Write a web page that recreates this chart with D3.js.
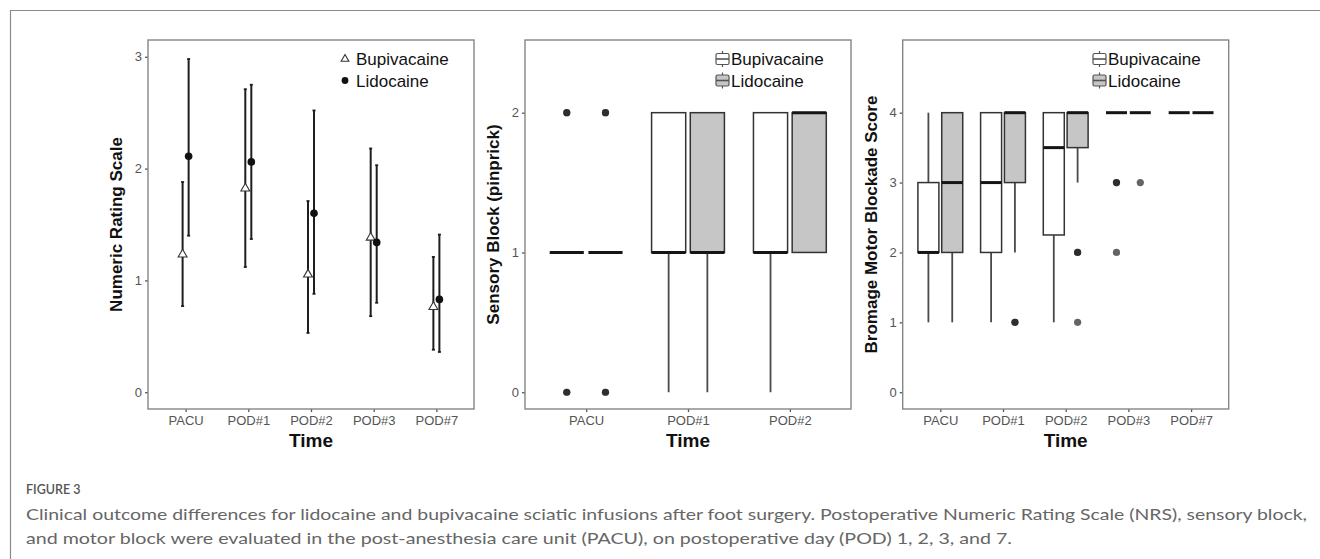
<!DOCTYPE html>
<html>
<head>
<meta charset="utf-8">
<script src="https://cdn.jsdelivr.net/npm/d3@7"></script>
<style>
  body { margin: 0; background: #fff; }
  svg { display: block; }
</style>
</head>
<body>
<div id="chart"></div>
<script>
// ---- data ----
const timesAll = ["PACU", "POD#1", "POD#2", "POD#3", "POD#7"];
const timesSensory = ["PACU", "POD#1", "POD#2"];
const groups = ["Bupivacaine", "Lidocaine"];

// numeric rating scale: mean and error bar ends
const nrsBupiMean = [1.24, 1.83, 1.06, 1.39, 0.77];
const nrsBupiLow  = [0.77, 1.12, 0.53, 0.68, 0.38];
const nrsBupiHigh = [1.88, 2.71, 1.71, 2.18, 1.21];
const nrsLidoMean = [2.11, 2.06, 1.60, 1.34, 0.83];
const nrsLidoLow  = [1.40, 1.37, 0.88, 0.80, 0.36];
const nrsLidoHigh = [2.98, 2.75, 2.52, 2.03, 1.41];

// box stats: [lowWhisker, q1, median, q3, highWhisker]
const sensoryBupi = [[1, 1, 1, 1, 1], [0, 1, 1, 2, 2], [0, 1, 1, 2, 2]];
const sensoryLido = [[1, 1, 1, 1, 1], [0, 1, 1, 2, 2], [1, 1, 2, 2, 2]];
const sensoryBupiOut = [[0, 0, 2, 2], [], []];
const sensoryLidoOut = [[0, 0, 2, 2], [], []];

const motorBupi = [[1, 2, 2, 3, 4], [1, 2, 3, 4, 4], [1, 2.25, 3.5, 4, 4], [4, 4, 4, 4, 4], [4, 4, 4, 4, 4]];
const motorLido = [[1, 2, 3, 4, 4], [2, 3, 4, 4, 4], [3, 3.5, 4, 4, 4], [4, 4, 4, 4, 4], [4, 4, 4, 4, 4]];
const motorBupiOut = [[], [], [], [3, 3, 2], []];
const motorLidoOut = [[], [1, 1], [2, 2, 1], [3], []];

const captionHead = "FIGURE 3";
const captionLines = [
  "Clinical outcome differences for lidocaine and bupivacaine sciatic infusions after foot surgery. Postoperative Numeric Rating Scale (NRS), sensory block,",
  "and motor block were evaluated in the post-anesthesia care unit (PACU), on postoperative day (POD) 1, 2, 3, and 7."
];

// ---- layout ----
const WIDTH = 1320, HEIGHT = 559;
const panelTop = 40, panelBottom = 409, panelW = 326;
const panelLefts = [148, 525, 902.7];
const boxFill = ["#ffffff", "#c6c6c6"];
const axisGray = "#555";
const font = "'Liberation Sans', Arial, sans-serif";

const svg = d3.select("#chart").append("svg")
  .attr("width", WIDTH).attr("height", HEIGHT);

// outer figure frame (top + left)
svg.append("path")
  .attr("d", `M10.5,${HEIGHT} V10.5 H${WIDTH}`)
  .attr("fill", "none").attr("stroke", "#8a8a8a").attr("stroke-width", 1.2);

function makePanel(left, categories, yDomain, yTicks, yTitle) {
  const g = svg.append("g").attr("transform", `translate(${left},0)`);
  const x = d3.scalePoint().domain(categories).range([0, panelW]).padding(0.6);
  const y = d3.scaleLinear().domain(yDomain).range([panelBottom, panelTop]);

  const yAxis = g.append("g")
    .call(d3.axisLeft(y).tickValues(yTicks).tickSize(3).tickPadding(3).tickFormat(d3.format("d")));
  const xAxis = g.append("g")
    .attr("transform", `translate(0,${panelBottom})`)
    .call(d3.axisBottom(x).tickSize(3).tickPadding(4));
  [yAxis, xAxis].forEach(a => {
    a.select(".domain").remove();
    a.selectAll("line").attr("stroke", axisGray).attr("stroke-width", 1.3);
    a.selectAll("text").attr("fill", axisGray).style("font-family", font).style("font-size", "13px");
  });

  g.append("rect")
    .attr("x", 0).attr("y", panelTop)
    .attr("width", panelW).attr("height", panelBottom - panelTop)
    .attr("fill", "none").attr("stroke", "#858585").attr("stroke-width", 1.4);

  g.append("text")
    .attr("transform", `translate(-26,${(panelTop + panelBottom) / 2}) rotate(-90)`)
    .attr("text-anchor", "middle")
    .style("font-family", font).style("font-size", "17px").style("font-weight", "bold")
    .attr("fill", "#111")
    .text(yTitle);

  g.append("text")
    .attr("x", panelW / 2).attr("y", 447)
    .attr("text-anchor", "middle")
    .style("font-family", font).style("font-size", "19px").style("font-weight", "bold")
    .attr("fill", "#111")
    .text("Time");

  return { g, x, y };
}

function legendText(g, lx, ly, label) {
  g.append("text")
    .attr("x", lx).attr("y", ly + 6)
    .style("font-family", font).style("font-size", "17px")
    .attr("fill", "#111")
    .text(label);
}

// ---- panel 1: NRS ----
{
  const { g, x, y } = makePanel(panelLefts[0], timesAll, [-0.15, 3.15], [0, 1, 2, 3], "Numeric Rating Scale");
  const dodge = x.step() * 0.048;
  const series = [
    { name: groups[0], mean: nrsBupiMean, low: nrsBupiLow, high: nrsBupiHigh, off: -dodge },
    { name: groups[1], mean: nrsLidoMean, low: nrsLidoLow, high: nrsLidoHigh, off: dodge }
  ];
  series.forEach((s, si) => {
    const pts = timesAll.map((t, i) => ({ t, m: s.mean[i], lo: s.low[i], hi: s.high[i] }));
    const eb = g.append("g");
    pts.forEach(p => {
      const cx = x(p.t) + s.off;
      eb.append("line").attr("x1", cx).attr("x2", cx)
        .attr("y1", y(p.lo)).attr("y2", y(p.hi))
        .attr("stroke", "#1e1e1e").attr("stroke-width", 2);
      [p.lo, p.hi].forEach(v => eb.append("line")
        .attr("x1", cx - 1.5).attr("x2", cx + 1.5).attr("y1", y(v)).attr("y2", y(v))
        .attr("stroke", "#1e1e1e").attr("stroke-width", 1.8));
    });
    if (si === 0) {
      g.selectAll(".tri").data(pts).join("path").attr("class", "tri")
        .attr("d", d3.symbol(d3.symbolTriangle, 34)())
        .attr("transform", d => `translate(${x(d.t) + s.off},${y(d.m) + 0.8})`)
        .attr("fill", "#fff").attr("stroke", "#333").attr("stroke-width", 1.1);
    } else {
      g.selectAll(".dot").data(pts).join("circle").attr("class", "dot")
        .attr("cx", d => x(d.t) + s.off).attr("cy", d => y(d.m)).attr("r", 3.8)
        .attr("fill", "#111");
    }
  });
  // legend
  const lx = 345 - panelLefts[0];
  g.append("path").attr("d", d3.symbol(d3.symbolTriangle, 26)())
    .attr("transform", `translate(${lx},59)`)
    .attr("fill", "#fff").attr("stroke", "#333").attr("stroke-width", 1.1);
  g.append("circle").attr("cx", lx).attr("cy", 80.5).attr("r", 3.4).attr("fill", "#111");
  legendText(g, lx + 11, 59, groups[0]);
  legendText(g, lx + 11, 80.5, groups[1]);
}

// ---- box plot helper ----
function drawBoxes(g, x, y, cats, statsByGroup, outByGroup) {
  const step = x.step();
  const bw = step * 0.335, off = step * 0.19;
  statsByGroup.forEach((stats, gi) => {
    const shift = gi === 0 ? -off : off;
    cats.forEach((c, i) => {
      const [lo, q1, med, q3, hi] = stats[i];
      const cx = x(c) + shift;
      const wh = g.append("g").attr("stroke", "#4a4a4a").attr("stroke-width", 1.8);
      if (lo < q1) wh.append("line").attr("x1", cx).attr("x2", cx).attr("y1", y(lo)).attr("y2", y(q1));
      if (hi > q3) wh.append("line").attr("x1", cx).attr("x2", cx).attr("y1", y(q3)).attr("y2", y(hi));
      if (q3 > q1) {
        g.append("rect")
          .attr("x", cx - bw / 2).attr("width", bw)
          .attr("y", y(q3)).attr("height", y(q1) - y(q3))
          .attr("fill", boxFill[gi]).attr("stroke", "#333").attr("stroke-width", 1.5);
      }
      g.append("line")
        .attr("x1", cx - bw / 2).attr("x2", cx + bw / 2)
        .attr("y1", y(med)).attr("y2", y(med))
        .attr("stroke", "#151515").attr("stroke-width", 3);
      g.selectAll(null).data(outByGroup[gi][i]).join("circle")
        .attr("cx", cx).attr("cy", d => y(d)).attr("r", 3.6)
        .attr("fill", "#111").attr("fill-opacity", 0.65);
    });
  });
}

function boxLegend(g, lx) {
  groups.forEach((name, gi) => {
    const cy = gi === 0 ? 59 : 80.5;
    const lg = g.append("g").attr("stroke", "#555").attr("stroke-width", 1.2);
    lg.append("line").attr("x1", lx + 7.5).attr("x2", lx + 7.5).attr("y1", cy - 8).attr("y2", cy + 8);
    lg.append("rect").attr("x", lx + 1).attr("y", cy - 5.5).attr("width", 13).attr("height", 11)
      .attr("rx", 1.5).attr("fill", boxFill[gi]);
    lg.append("line").attr("x1", lx + 1).attr("x2", lx + 14).attr("y1", cy).attr("y2", cy).attr("stroke-width", 1.6);
    legendText(g, lx + 16, cy, name);
  });
}

// ---- panel 2: sensory block ----
{
  const { g, x, y } = makePanel(panelLefts[1], timesSensory, [-0.12, 2.52], [0, 1, 2], "Sensory Block (pinprick)");
  drawBoxes(g, x, y, timesSensory, [sensoryBupi, sensoryLido], [sensoryBupiOut, sensoryLidoOut]);
  boxLegend(g, 715 - panelLefts[1]);
}

// ---- panel 3: motor block ----
{
  const { g, x, y } = makePanel(panelLefts[2], timesAll, [-0.24, 5.04], [0, 1, 2, 3, 4], "Bromage Motor Blockade Score");
  drawBoxes(g, x, y, timesAll, [motorBupi, motorLido], [motorBupiOut, motorLidoOut]);
  boxLegend(g, 1092 - panelLefts[2]);
}

// ---- caption ----
const cap = svg.append("g").style("font-family", "Lato, 'Open Sans', sans-serif");
cap.append("text")
  .attr("x", 26).attr("y", 494)
  .style("font-size", "12.5px").style("font-weight", "600")
  .attr("fill", "#555")
  .text(captionHead);
const capWidths = [1281, 986];
captionLines.forEach((line, i) => {
  cap.append("text")
    .attr("x", 26).attr("y", 520 + i * 24)
    .style("font-size", "15px")
    .attr("fill", "#666")
    .attr("textLength", capWidths[i]).attr("lengthAdjust", "spacingAndGlyphs")
    .text(line);
});
</script>
</body>
</html>
